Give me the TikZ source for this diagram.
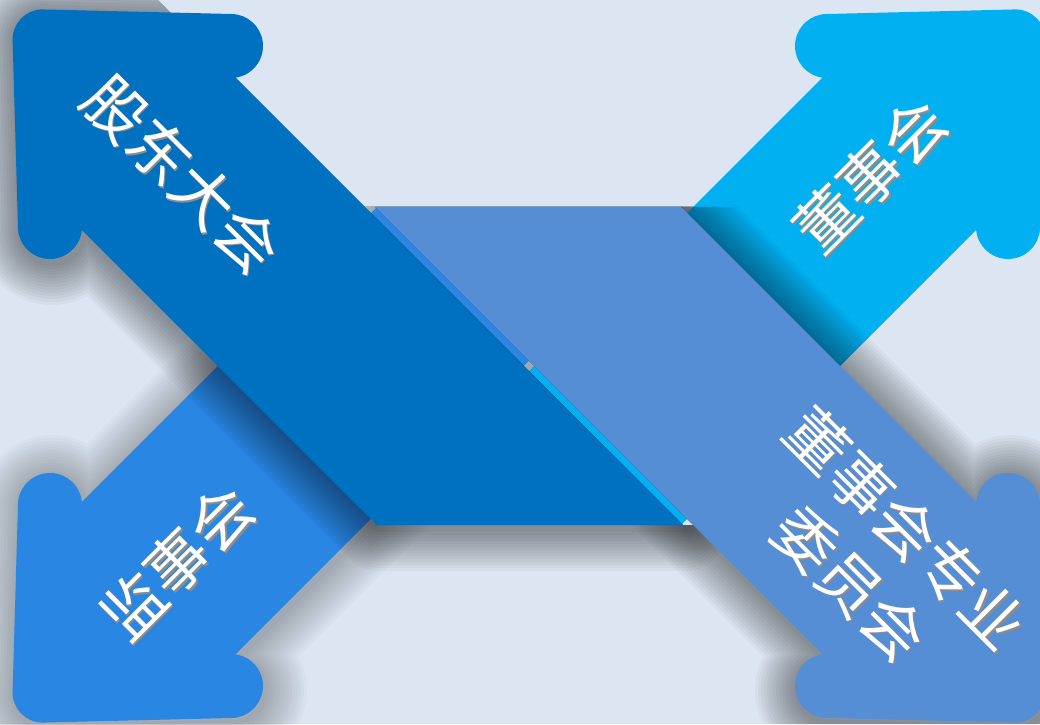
\documentclass[tikz,border=0pt]{standalone}
\usepackage{fontspec}
\newfontfamily\cjk{Noto Sans CJK SC}
\definecolor{bgc}{HTML}{DCE6F2}
\definecolor{cA}{HTML}{0070C0}
\definecolor{cB}{HTML}{558ED5}
\definecolor{cC}{HTML}{00B0F0}
\definecolor{cD}{HTML}{2986E2}
\newcommand{\arrowshape}{(-152,-159) -- (154,-159) -- ([shift={(-81.7:32)}]-298,320) arc[start angle=-81.7, end angle=88.5, radius=32] -- ([shift={(91.5:30)}]-486.4,326.6) arc[start angle=91.5, end angle=181.5, radius=30] -- ([shift={(-178.6:32)}]-479,139) arc[start angle=-178.6, end angle=-5.2, radius=32] -- cycle}
\newcommand{\halo}[1]{\foreach \w in {6,12,...,84} {\draw[line width=\w pt, black, draw opacity=#1, line join=round] \arrowshape;}}
% text with a soft shadow: #1 = x offset, #2 = y offset (in the text's own frame)
\newcommand{\shtext}[3]{\rlap{\kern#1pt\raisebox{#2pt}{\color{black!45}#3}}#3}
\tikzset{
  lbl/.style={text=white, font=\cjk\fontsize{62}{78.5}\selectfont, inner sep=0pt, align=center},
}
\begin{document}
\begin{tikzpicture}[x=1pt, y=1pt]
\fill[bgc] (0,0) rectangle (1040,724);
\useasboundingbox (0,0) rectangle (1040,724);
\clip (0,0) rectangle (1040,724);
% lower pair: D (south-west) and C (north-east)
\begin{scope}
  \clip (0,0) rectangle (1040,517);
  \begin{scope}[shift={(531,354)}, yscale=-1] \halo{0.018} \end{scope}
\end{scope}
\begin{scope}[shift={(529,358)}, yscale=-1] \fill[cD] \arrowshape; \end{scope}
\begin{scope}[shift={(529,358)}, xscale=-1] \fill[cC] \arrowshape; \end{scope}
% shadows of the upper pair
\begin{scope}
  \clip (0,0) -- (1040,0) -- (1040,199) -- (683,199) -- (158,724) -- (0,724) -- cycle;
  \begin{scope}[shift={(531,354)}] \halo{0.03} \end{scope}
\end{scope}
\begin{scope}
  \clip (0,0) -- (1040,0) -- (1040,517) -- (375,517) -- (693,199) -- (0,199) -- cycle;
  \begin{scope}[shift={(531,354)}, xscale=-1, yscale=-1] \halo{0.03} \end{scope}
\end{scope}
% upper pair: A (north-west) and B (south-east)
\begin{scope}[shift={(529,358)}] \fill[cA] \arrowshape; \end{scope}
\begin{scope}[shift={(529,358)}, xscale=-1, yscale=-1] \fill[cB] \arrowshape; \end{scope}
% labels
\node[lbl, rotate=-45] (tA) at (182,550) {\shtext{2}{0}{股东大会}};
\node[lbl, rotate=45] (tC) at (871,548) {\shtext{0}{-2}{董事会}};
\node[lbl, rotate=45] (tD) at (178,161) {\shtext{0}{-2}{监事会}};
\node[lbl, rotate=-45] (tB) at (878,168) {\shtext{2}{0}{董事会专业}\\\shtext{2}{0}{委员会}};
\end{tikzpicture}
\end{document}
